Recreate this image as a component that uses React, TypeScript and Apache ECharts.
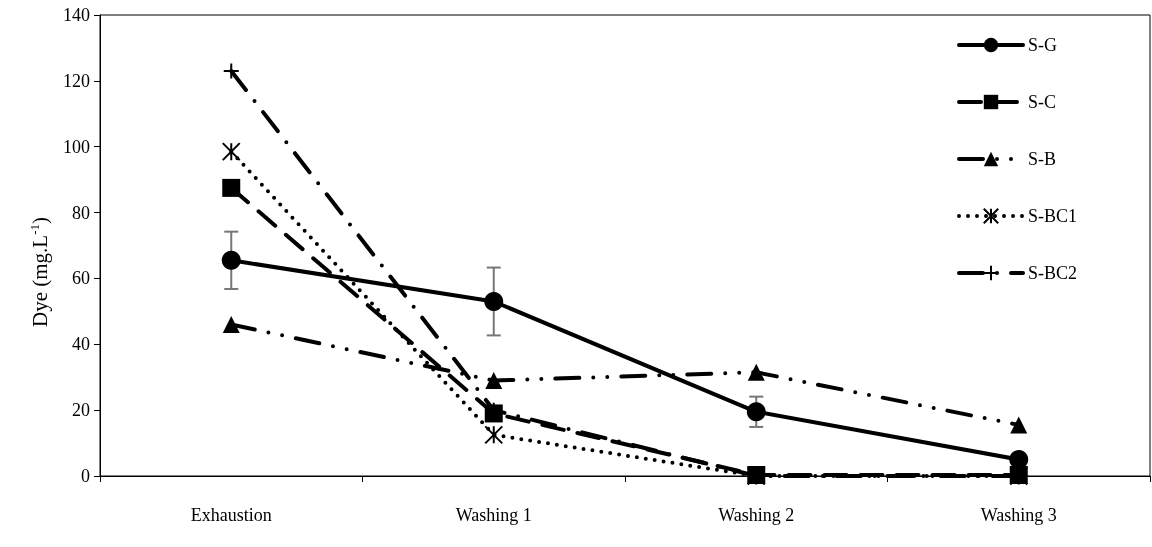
import React, { useEffect, useRef } from "react";
import * as echarts from "echarts";

const categories = ["Exhaustion", "Washing 1", "Washing 2", "Washing 3"];
const seriesNames = ["S-G", "S-C", "S-B", "S-BC1", "S-BC2"];
const sG = [65.5, 53, 19.5, 5];
const sGErr = [8.7, 10.3, 4.6, 0];
const sC = [87.5, 19, 0.3, 0.3];
const sB = [46, 29, 31.5, 15.5];
const sBC1 = [98.5, 12.5, 0, 0];
const sBC2 = [123, 20, 0, 0];
const yTicks = { min: 0, max: 140, interval: 20 };

const FONT = "Liberation Serif";
const STAR = "path://M0,0L10,10M10,0L0,10M5,0L5,10";
const PLUS = "path://M5,0L5,10M0,5L10,5";

export default function App() {
  const ref = useRef<HTMLDivElement>(null);
  useEffect(() => {
    const chart = echarts.init(ref.current!, null, { renderer: "svg" });
    const errData = sG.map((v, i) => [i, v - sGErr[i], v + sGErr[i]]);
    const lineBase = (name: string, data: number[], dash: any, symbol: string, size: number, extra: any = {}) => ({
      name,
      type: "line",
      data,
      symbol,
      symbolSize: size,
      z: 3,
      lineStyle: { color: "#000", width: 4, type: dash, cap: "round" },
      itemStyle: { color: "#000", ...extra },
      emphasis: { disabled: true },
    });
    chart.setOption({
      animation: false,
      textStyle: { fontFamily: FONT, color: "#000" },
      grid: { left: 100, right: 2, top: 15, bottom: 71, show: true, borderColor: "#000", borderWidth: 1 },
      legend: {
        orient: "vertical",
        left: 952,
        top: 31,
        itemWidth: 64,
        itemHeight: 18,
        itemGap: 39,
        data: seriesNames,
        lineStyle: { width: 4 },
        textStyle: { fontFamily: FONT, fontSize: 18, color: "#000" },
      },
      graphic: [
        {
          type: "text",
          x: 40,
          y: 272,
          rotation: Math.PI / 2,
          style: {
            text: "{a|Dye (mg.L}{s|-1}{a|)}",
            align: "center",
            verticalAlign: "middle",
            rich: {
              a: { fontFamily: FONT, fontSize: 21, fill: "#000", lineHeight: 24 },
              s: { fontFamily: FONT, fontSize: 13, fill: "#000", lineHeight: 24, verticalAlign: "top", padding: [0, 0, 10, 0] },
            },
          },
        },
      ],
      xAxis: {
        type: "category",
        data: categories,
        boundaryGap: true,
        axisLine: { lineStyle: { color: "#000", width: 1 } },
        axisTick: { show: true, inside: false, length: 6, lineStyle: { color: "#000" } },
        axisLabel: { fontFamily: FONT, fontSize: 18, color: "#000", margin: 30 },
        splitLine: { show: false },
      },
      yAxis: {
        type: "value",
        ...yTicks,
        axisLine: { show: true, lineStyle: { color: "#000", width: 1 } },
        axisTick: { show: true, inside: false, length: 6, lineStyle: { color: "#000" } },
        axisLabel: { fontFamily: FONT, fontSize: 18, color: "#000", margin: 10 },
        splitLine: { show: false },
      },
      series: [
        {
          type: "custom",
          name: "err",
          z: 2,
          data: errData,
          renderItem: (params: any, api: any) => {
            const x = api.value(0);
            const lo = api.coord([x, api.value(1)]);
            const hi = api.coord([x, api.value(2)]);
            if (Math.abs(lo[1] - hi[1]) < 1) return { type: "group", children: [] };
            const w = 7;
            const st = { stroke: "#777", lineWidth: 2 };
            return {
              type: "group",
              children: [
                { type: "line", shape: { x1: lo[0], y1: lo[1], x2: hi[0], y2: hi[1] }, style: st },
                { type: "line", shape: { x1: lo[0] - w, y1: lo[1], x2: lo[0] + w, y2: lo[1] }, style: st },
                { type: "line", shape: { x1: hi[0] - w, y1: hi[1], x2: hi[0] + w, y2: hi[1] }, style: st },
              ],
            };
          },
        },
        lineBase("S-G", sG, "solid", "circle", 19),
        lineBase("S-C", sC, [22, 14], "rect", 18),
        lineBase("S-B", sB, [24, 14, 0, 14, 0, 14], "triangle", 17),
        lineBase("S-BC1", sBC1, [0, 9], STAR, 17, { borderColor: "#000", borderWidth: 2 }),
        lineBase("S-BC2", sBC2, [24, 14, 0, 14], PLUS, 15, { borderColor: "#000", borderWidth: 2 }),
      ],
    });
    return () => chart.dispose();
  }, []);
  return <div ref={ref} style={{ position: "fixed", left: 0, top: 0, width: 1152, height: 547 }} />;
}
